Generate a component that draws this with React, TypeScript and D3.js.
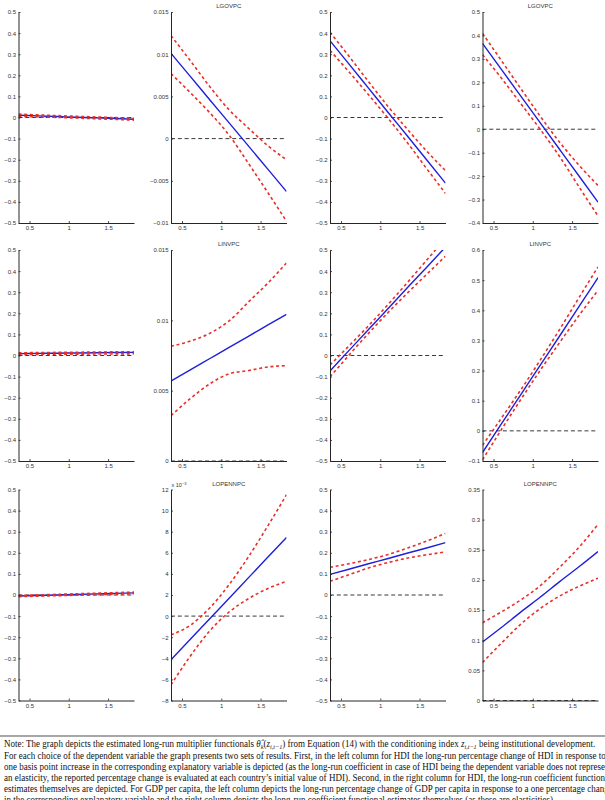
import React, { useEffect, useRef } from 'react';
import * as d3 from 'd3';

// conditioning index (institutional development) at which the functionals are evaluated
const zGrid = [0.36, 0.6, 0.85, 1.1, 1.35, 1.6, 1.83];
const zTicks = [0.5, 1, 1.5];

// LGOVPC
const hdiPctGov = [0.011, 0.0079, 0.0047, 0.0015, -0.0018, -0.005, -0.008];
const hdiPctGovUp = [0.016, 0.0125, 0.009, 0.0057, 0.0024, -0.0008, -0.0035];
const hdiPctGovLo = [0.006, 0.0033, 0.0004, -0.0027, -0.006, -0.0092, -0.0125];
const hdiCoefGov = [0.0101, 0.00743, 0.00464, 0.00186, -0.00092, -0.00371, -0.00627];
const hdiCoefGovUp = [0.0122, 0.0093, 0.0062, 0.0034, 0.0012, -0.0009, -0.0025];
const hdiCoefGovLo = [0.0077, 0.0055, 0.0031, 0.0004, -0.003, -0.0065, -0.0098];
const gdpPctGov = [0.364, 0.254, 0.139, 0.024, -0.09, -0.205, -0.311];
const gdpPctGovUp = [0.404, 0.291, 0.17, 0.052, -0.058, -0.163, -0.252];
const gdpPctGovLo = [0.318, 0.217, 0.108, -0.004, -0.122, -0.247, -0.36];
const gdpCoefGov = [0.366, 0.255, 0.14, 0.025, -0.09, -0.205, -0.311];
const gdpCoefGovUp = [0.409, 0.293, 0.172, 0.053, -0.059, -0.158, -0.24];
const gdpCoefGovLo = [0.318, 0.218, 0.108, -0.003, -0.121, -0.252, -0.37];

// LINVPC
const hdiPctInv = [0.009, 0.01, 0.011, 0.012, 0.013, 0.014, 0.015];
const hdiPctInvUp = [0.013, 0.0138, 0.0147, 0.0155, 0.0163, 0.0172, 0.018];
const hdiPctInvLo = [0.005, 0.0055, 0.006, 0.0065, 0.007, 0.0075, 0.008];
const hdiCoefInv = [0.00569, 0.00646, 0.00727, 0.00808, 0.00888, 0.00969, 0.01043];
const hdiCoefInvUp = [0.00816, 0.00851, 0.00907, 0.00996, 0.01133, 0.01269, 0.01408];
const hdiCoefInvLo = [0.00322, 0.00441, 0.00547, 0.0062, 0.00643, 0.00669, 0.00678];
const gdpPctInv = [-0.073, 0.023, 0.123, 0.223, 0.323, 0.422, 0.514];
const gdpPctInvUp = [-0.045, 0.045, 0.141, 0.242, 0.348, 0.456, 0.557];
const gdpPctInvLo = [-0.101, 0.001, 0.105, 0.204, 0.298, 0.388, 0.471];
const gdpCoefInv = [-0.072, 0.023, 0.121, 0.22, 0.318, 0.417, 0.508];
const gdpCoefInvUp = [-0.048, 0.042, 0.137, 0.237, 0.34, 0.447, 0.544];
const gdpCoefInvLo = [-0.096, 0.004, 0.105, 0.203, 0.296, 0.387, 0.466];

// LOPENNPC
const hdiPctOpen = [-0.005, -0.0026, 0.0, 0.0026, 0.0051, 0.0077, 0.01];
const hdiPctOpenUp = [-0.002, 0.0005, 0.0032, 0.0059, 0.0086, 0.0113, 0.014];
const hdiPctOpenLo = [-0.008, -0.0057, -0.0034, -0.001, 0.0014, 0.0037, 0.006];
const hdiCoefOpen = [-0.00415, -0.00225, -0.00028, 0.00169, 0.00367, 0.00564, 0.00746];
const hdiCoefOpenUp = [-0.00178, -0.0009, 0.00075, 0.00299, 0.00567, 0.00864, 0.0115];
const hdiCoefOpenLo = [-0.00652, -0.00385, -0.00143, 0.00039, 0.00167, 0.00264, 0.0033];
const gdpPctOpen = [0.098, 0.122, 0.148, 0.173, 0.199, 0.224, 0.248];
const gdpPctOpenUp = [0.131, 0.148, 0.168, 0.192, 0.223, 0.257, 0.292];
const gdpPctOpenLo = [0.065, 0.096, 0.128, 0.154, 0.175, 0.191, 0.204];
const gdpCoefOpen = [0.097, 0.121, 0.147, 0.172, 0.198, 0.223, 0.247];
const gdpCoefOpenUp = [0.129, 0.147, 0.167, 0.191, 0.222, 0.256, 0.292];
const gdpCoefOpenLo = [0.063, 0.095, 0.127, 0.153, 0.174, 0.19, 0.203];

// y-axis tick values
const ticksHalf = [-0.5, -0.4, -0.3, -0.2, -0.1, 0, 0.1, 0.2, 0.3, 0.4, 0.5];
const ticksGovCoef = [-0.01, -0.005, 0, 0.005, 0.01, 0.015];
const ticksGovGdp = [-0.4, -0.3, -0.2, -0.1, 0, 0.1, 0.2, 0.3, 0.4, 0.5];
const ticksInvCoef = [0, 0.005, 0.01, 0.015];
const ticksInvGdp = [-0.1, 0, 0.1, 0.2, 0.3, 0.4, 0.5, 0.6];
const ticksOpenCoef = [-0.008, -0.006, -0.004, -0.002, 0, 0.002, 0.004, 0.006, 0.008, 0.01, 0.012];
const ticksOpenGdp = [0, 0.05, 0.1, 0.15, 0.2, 0.25, 0.3, 0.35];

type Panel = {
  title?: string;
  est: number[];
  up: number[];
  lo: number[];
  ticks: number[];
  exp?: number;
};

const panels: Panel[][] = [
  [
    { est: hdiPctGov, up: hdiPctGovUp, lo: hdiPctGovLo, ticks: ticksHalf },
    { title: 'LGOVPC', est: hdiCoefGov, up: hdiCoefGovUp, lo: hdiCoefGovLo, ticks: ticksGovCoef },
    { est: gdpPctGov, up: gdpPctGovUp, lo: gdpPctGovLo, ticks: ticksHalf },
    { title: 'LGOVPC', est: gdpCoefGov, up: gdpCoefGovUp, lo: gdpCoefGovLo, ticks: ticksGovGdp },
  ],
  [
    { est: hdiPctInv, up: hdiPctInvUp, lo: hdiPctInvLo, ticks: ticksHalf },
    { title: 'LINVPC', est: hdiCoefInv, up: hdiCoefInvUp, lo: hdiCoefInvLo, ticks: ticksInvCoef },
    { est: gdpPctInv, up: gdpPctInvUp, lo: gdpPctInvLo, ticks: ticksHalf },
    { title: 'LINVPC', est: gdpCoefInv, up: gdpCoefInvUp, lo: gdpCoefInvLo, ticks: ticksInvGdp },
  ],
  [
    { est: hdiPctOpen, up: hdiPctOpenUp, lo: hdiPctOpenLo, ticks: ticksHalf },
    { title: 'LOPENNPC', est: hdiCoefOpen, up: hdiCoefOpenUp, lo: hdiCoefOpenLo, ticks: ticksOpenCoef, exp: -3 },
    { est: gdpPctOpen, up: gdpPctOpenUp, lo: gdpPctOpenLo, ticks: ticksHalf },
    { title: 'LOPENNPC', est: gdpCoefOpen, up: gdpCoefOpenUp, lo: gdpCoefOpenLo, ticks: ticksOpenGdp },
  ],
];

const colLeft = [18.5, 171, 330, 482.5];
const rowTop = [12, 250, 489.5];
const panelW = 115.5;
const panelH = 211;

const sans = "'Liberation Sans', Arial, sans-serif";
const serif = "'Liberation Serif', 'Times New Roman', serif";

const noteLines = [
  'For each choice of the dependent variable the graph presents two sets of results. First, in the left column for HDI the long-run percentage change of HDI in response to a',
  'one basis point increase in the corresponding explanatory variable is depicted (as the long-run coefficient in case of HDI being the dependent variable does not represent',
  'an elasticity, the reported percentage change is evaluated at each country\u2019s initial value of HDI). Second, in the right column for HDI, the long-run coefficient functional',
  'estimates themselves are depicted. For GDP per capita, the left column depicts the long-run percentage change of GDP per capita in response to a one percentage change',
  'in the corresponding explanatory variable and the right column depicts the long-run coefficient functional estimates themselves (as these are elasticities).',
];

const App = () => {
  const ref = useRef<SVGSVGElement>(null);

  useEffect(() => {
    const svg = d3.select(ref.current);
    svg.selectAll('g.panel').remove();

    const x = d3.scaleLinear().domain([zGrid[0], zGrid[zGrid.length - 1]]).range([0, panelW]);

    panels.forEach((row, r) =>
      row.forEach((p, c) => {
        const g = svg
          .append('g')
          .attr('class', 'panel')
          .attr('transform', `translate(${colLeft[c]},${rowTop[r]})`);

        const y = d3
          .scaleLinear()
          .domain([p.ticks[0], p.ticks[p.ticks.length - 1]])
          .range([panelH, 0]);

        const clipId = `clip-${r}-${c}`;
        g.append('clipPath').attr('id', clipId).append('rect').attr('width', panelW).attr('height', panelH);

        // zero reference line
        g.append('line')
          .attr('x1', 0)
          .attr('x2', panelW)
          .attr('y1', y(0))
          .attr('y2', y(0))
          .attr('stroke', '#222')
          .attr('stroke-width', 0.9)
          .attr('stroke-dasharray', '4,2.8');

        const plot = g.append('g').attr('clip-path', `url(#${clipId})`);
        const line = d3
          .line<number>()
          .x((_, i) => x(zGrid[i]))
          .y(d => y(d))
          .curve(d3.curveMonotoneX);

        plot.append('path')
          .datum(p.est)
          .attr('d', line)
          .attr('fill', 'none')
          .attr('stroke', '#1f1fdc')
          .attr('stroke-width', 1.4);

        [p.up, p.lo].forEach(band => {
          plot.append('path')
            .datum(band)
            .attr('d', line)
            .attr('fill', 'none')
            .attr('stroke', '#e8302a')
            .attr('stroke-width', 1.6)
            .attr('stroke-dasharray', '3,2.7');
        });

        const scale = p.exp ? Math.pow(10, -p.exp) : 1;
        const fmt = d3.format('~g');

        const yAxis = g.append('g').call(
          d3.axisLeft(y)
            .tickValues(p.ticks)
            .tickSize(-2)
            .tickSizeOuter(0)
            .tickPadding(2.5)
            .tickFormat(d => fmt(Math.round((d as number) * scale * 1e6) / 1e6))
        );
        const xAxis = g.append('g')
          .attr('transform', `translate(0,${panelH})`)
          .call(d3.axisBottom(x).tickValues(zTicks).tickSize(-2).tickSizeOuter(0).tickPadding(3).tickFormat(d => fmt(d as number)));

        [yAxis, xAxis].forEach(ax => {
          ax.attr('font-family', sans).attr('font-size', 6);
          ax.select('.domain').attr('stroke', '#262626').attr('stroke-width', 1);
          ax.selectAll('.tick line').attr('stroke', '#262626').attr('stroke-width', 0.8);
          ax.selectAll('.tick text').attr('fill', '#333');
        });

        if (p.title) {
          g.append('text')
            .attr('x', panelW / 2)
            .attr('y', -4)
            .attr('text-anchor', 'middle')
            .attr('font-family', sans)
            .attr('font-size', 6)
            .attr('fill', '#333')
            .text(p.title);
        }

        if (p.exp) {
          const t = g.append('text')
            .attr('x', 0.5)
            .attr('y', -2.5)
            .attr('font-family', sans)
            .attr('font-size', 5.5)
            .attr('fill', '#333')
            .text('x 10');
          t.append('tspan')
            .attr('dy', -2.5)
            .attr('font-size', 4)
            .text(`\u2212${Math.abs(p.exp)}`);
        }
      })
    );
  }, []);

  return (
    <svg
      ref={ref}
      width={605}
      height={800}
      style={{ position: 'absolute', left: 0, top: 0, background: '#fff' }}
    >
      <line x1={0} x2={605} y1={736} y2={736} stroke="#8a8a8a" strokeWidth={1.3} />
      <g fontFamily={serif} fontSize={9.5} fill="#111" transform="translate(4,0) scale(0.95,1)">
        <text x={0} y={747.5}>
          Note: The graph depicts the estimated long-run multiplier functionals{' '}
          <tspan fontStyle="italic">{'\u03B8\u0302'}</tspan>
          <tspan fontStyle="italic" fontSize={6.5} dy={2}>k</tspan>
          <tspan dy={-2}>(</tspan>
          <tspan fontStyle="italic">z</tspan>
          <tspan fontStyle="italic" fontSize={6.5} dy={2}>{'i,t\u22121'}</tspan>
          <tspan dy={-2}>) from Equation (14) with the conditioning index </tspan>
          <tspan fontStyle="italic">z</tspan>
          <tspan fontStyle="italic" fontSize={6.5} dy={2}>{'i,t\u22121'}</tspan>
          <tspan dy={-2}> being institutional development.</tspan>
        </text>
        {noteLines.map((s, i) => (
          <text key={i} x={0} y={758.7 + i * 11.2}>
            {s}
          </text>
        ))}
      </g>
    </svg>
  );
};

export default App;
